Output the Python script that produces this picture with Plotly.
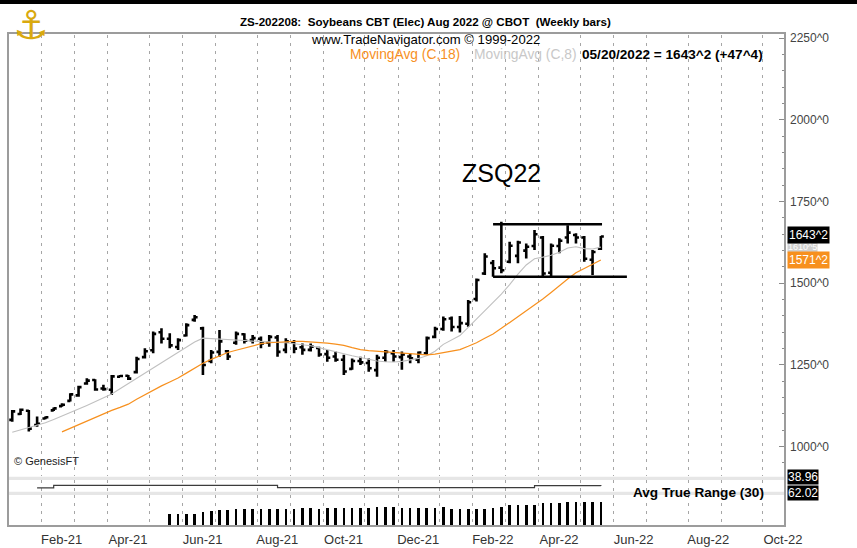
import pandas as pd
import plotly.graph_objects as go

# ---------------- data ----------------
bar_dates = pd.date_range("2021-01-08", "2022-05-20", freq="W-FRI")

opens = [1082, 1100, 1110, 1066, 1086, 1111, 1124, 1140, 1157, 1193, 1204, 1178, 1174, 1214, 1217, 1228, 1274, 1295,
         1350, 1330, 1305, 1340, 1388, 1362, 1262, 1290, 1292, 1318, 1344, 1326, 1330, 1318, 1334, 1296, 1318, 1304,
         1296, 1302, 1283, 1276, 1266, 1238, 1262, 1256, 1234, 1272, 1286, 1274, 1276, 1266, 1286, 1336, 1360, 1392,
         1366, 1376, 1452, 1530, 1562, 1548, 1566, 1584, 1600, 1614, 1640, 1532, 1614, 1640, 1648, 1640, 1572, 1606]
highs = [1112, 1117, 1112, 1092, 1092, 1120, 1133, 1163, 1186, 1209, 1206, 1189, 1219, 1219, 1219, 1275, 1301, 1352,
         1362, 1347, 1332, 1378, 1403, 1367, 1296, 1357, 1296, 1352, 1347, 1342, 1337, 1342, 1342, 1332, 1326, 1316,
         1316, 1306, 1296, 1291, 1281, 1270, 1275, 1270, 1281, 1296, 1296, 1291, 1286, 1291, 1337, 1367, 1398, 1398,
         1400, 1449, 1515, 1592, 1571, 1688, 1627, 1630, 1622, 1663, 1645, 1622, 1638, 1678, 1653, 1645, 1602, 1645]
lows = [1076, 1097, 1046, 1061, 1084, 1109, 1122, 1138, 1153, 1189, 1171, 1171, 1158, 1212, 1204, 1224, 1270, 1286,
        1316, 1301, 1296, 1337, 1382, 1219, 1255, 1275, 1265, 1312, 1316, 1316, 1301, 1306, 1275, 1286, 1286, 1281,
        1291, 1275, 1260, 1260, 1219, 1235, 1250, 1229, 1214, 1260, 1260, 1235, 1255, 1255, 1281, 1332, 1355, 1352,
        1349, 1367, 1444, 1525, 1520, 1531, 1561, 1561, 1576, 1602, 1520, 1520, 1592, 1622, 1622, 1566, 1525, 1602]
closes = [1108, 1113, 1055, 1070, 1090, 1117, 1128, 1160, 1182, 1202, 1175, 1176, 1215, 1216, 1208, 1268, 1292, 1345,
          1330, 1310, 1326, 1372, 1396, 1250, 1288, 1322, 1276, 1345, 1324, 1332, 1316, 1336, 1290, 1322, 1300, 1296,
          1306, 1282, 1272, 1266, 1230, 1262, 1258, 1240, 1272, 1290, 1276, 1282, 1270, 1288, 1332, 1360, 1390, 1366,
          1378, 1442, 1510, 1582, 1546, 1540, 1615, 1625, 1612, 1650, 1530, 1615, 1630, 1655, 1640, 1575, 1595.75, 1643.25]

# Moving averages
ma8 = [1044, 1051, 1058, 1066, 1073, 1083, 1093, 1103, 1115, 1126, 1138, 1149, 1161, 1177, 1193, 1209, 1225, 1241,
       1257, 1273, 1289, 1303, 1320, 1332, 1331, 1330, 1329, 1327, 1325, 1323, 1321, 1320, 1319, 1318, 1315, 1312,
       1309, 1303, 1296, 1290, 1284, 1278, 1272, 1267, 1262, 1260, 1259, 1261, 1265, 1270, 1278, 1292, 1313, 1327,
       1340, 1365, 1390, 1415, 1440, 1467, 1496, 1528, 1556, 1575, 1580, 1586, 1595, 1608, 1612, 1606, 1605, 1610.6]
ma18 = [None] * 6 + [1045, 1056, 1068, 1079, 1090, 1101, 1111, 1120, 1130, 1145, 1159, 1173, 1186, 1198, 1210, 1225,
                     1241, 1255, 1267, 1278, 1288, 1295, 1302, 1309, 1315, 1318, 1320, 1321, 1322, 1322, 1321, 1320,
                     1317, 1314, 1310, 1303, 1297, 1294, 1292, 1290, 1288, 1286, 1284, 1282, 1281, 1283, 1287, 1291,
                     1297, 1307, 1318, 1332, 1345, 1362, 1380, 1397, 1414, 1432, 1452, 1472, 1493, 1513, 1532, 1545,
                     1557, 1571.25]

# middle strip indicator
strip_vals = [None] * 3 + [37.2, 37.2] + [39.7] * 27 + [37.3] * 31 + [39.3] * 8 + [38.96]

# Avg True Range (30)
atr = [None] * 19 + [30.5, 30.5, 30.5, 30.5, 35.8, 39.3, 41.9, 41.9, 44.5, 44.5, 44.5, 44.5, 44.5, 44.5, 44.5, 44.5,
                     48.0, 48.0, 44.5, 48.0, 48.0, 48.0, 48.0, 48.0, 48.0, 50.6, 50.6, 50.6, 48.0, 48.0, 48.0, 48.0,
                     48.0, 50.6, 44.5, 44.5, 44.5, 44.5, 44.5, 48.0, 50.6, 55.0, 55.0, 55.0, 55.0, 59.3, 59.3, 61.1,
                     61.5, 62.0, 62.3, 62.1, 62.02]

# drawn channel (trend lines)
channel_top_dates = ["2022-02-18", "2022-05-21"]
channel_top_price = 1681
channel_bot_dates = ["2022-02-18", "2022-06-11"]
channel_bot_price = 1520

price_ticks = [1000, 1250, 1500, 1750, 2000, 2250]
price_tick_text = ["1000^0", "1250^0", "1500^0", "1750^0", "2000^0", "2250^0"]
x_tick_labels = ["Feb-21", "Apr-21", "Jun-21", "Aug-21", "Oct-21", "Dec-21",
                 "Feb-22", "Apr-22", "Jun-22", "Aug-22", "Oct-22"]

# ---------------- styling helpers ----------------
ARIAL = "Liberation Sans, Arial, sans-serif"


def first_friday(d):
    return d + pd.Timedelta(days=(4 - d.weekday()) % 7)


month_starts = pd.date_range("2021-02-01", "2022-10-01", freq="MS")
grid_dates = [first_friday(m) - pd.Timedelta(hours=78) for m in month_starts]
label_pos = []
for lab in x_tick_labels:
    m = pd.to_datetime("01-" + lab, format="%d-%b-%y")
    label_pos.append(first_friday(m) - pd.Timedelta(hours=78) + pd.Timedelta(days=17))

fig = go.Figure()

fig.add_trace(go.Ohlc(
    x=bar_dates, open=opens, high=highs, low=lows, close=closes,
    increasing=dict(line=dict(color="black", width=2.6)),
    decreasing=dict(line=dict(color="black", width=2.6)),
    tickwidth=0.36, xaxis="x", yaxis="y", showlegend=False, hoverinfo="skip"))

fig.add_trace(go.Scatter(x=bar_dates, y=ma8, mode="lines",
                         line=dict(color="#c0c0c0", width=1.1), xaxis="x", yaxis="y",
                         showlegend=False, hoverinfo="skip"))
fig.add_trace(go.Scatter(x=bar_dates, y=ma18, mode="lines",
                         line=dict(color="#f7901e", width=1.2), xaxis="x", yaxis="y",
                         showlegend=False, hoverinfo="skip"))

fig.add_trace(go.Scatter(x=bar_dates, y=strip_vals, mode="lines", line_shape="hv",
                         line=dict(color="#3c3c3c", width=1.2), xaxis="x", yaxis="y2",
                         showlegend=False, hoverinfo="skip"))

fig.add_trace(go.Bar(x=bar_dates, y=atr, marker=dict(color="black", line=dict(width=0)),
                     width=2.2 * 86400000, xaxis="x", yaxis="y3", showlegend=False, hoverinfo="skip"))

# channel lines
for xs, p in ((channel_top_dates, channel_top_price), (channel_bot_dates, channel_bot_price)):
    fig.add_shape(type="line", xref="x", yref="y", x0=xs[0], x1=xs[1], y0=p, y1=p,
                  line=dict(color="black", width=2.5))

shapes_paper = [
    # separators between panels
    dict(type="rect", xref="paper", yref="paper", x0=0, x1=1, y0=0.0937, y1=0.1004,
         fillcolor="#e6e6e6", line=dict(width=0), layer="below"),
    dict(type="rect", xref="paper", yref="paper", x0=0, x1=1, y0=0.0631, y1=0.0699,
         fillcolor="#e6e6e6", line=dict(width=0), layer="below"),
    # frame
    dict(type="rect", xref="paper", yref="paper", x0=0, x1=1, y0=0, y1=1.004,
         fillcolor="rgba(0,0,0,0)", line=dict(color="#9c9c9c", width=2)),
    # top black rule
    dict(type="rect", xref="paper", yref="paper", x0=-0.0103, x1=1.0927, y0=1.0632, y1=1.0713,
         fillcolor="black", line=dict(width=0)),
]
for s in shapes_paper:
    fig.add_shape(**s)

ann = []
ann.append(dict(text="<b>ZS-202208:  Soybeans CBT (Elec) Aug 2022 @ CBOT  (Weekly bars)</b>",
                x=0.5367, y=1.0448, xref="paper", yref="paper", showarrow=False,
                font=dict(family=ARIAL, size=11.6, color="black")))
ann.append(dict(text="www.TradeNavigator.com © 1999-2022",
                x=0.5379, y=1.0102, xref="paper", yref="paper", showarrow=False,
                font=dict(family=ARIAL, size=13.1, color="black")))
ann.append(dict(text="MovingAvg (C,18)", x=0.4376, y=0.9796, xref="paper", yref="paper",
                xanchor="left", showarrow=False, font=dict(family=ARIAL, size=13.8, color="#f7901e")))
ann.append(dict(text="MovingAvg (C,8)", x=0.5972, y=0.9796, xref="paper", yref="paper",
                xanchor="left", showarrow=False, font=dict(family=ARIAL, size=13.8, color="#c8c8c8")))
ann.append(dict(text="<b>05/20/2022 = 1643^2 (+47^4)</b>", x=0.9743, y=0.9796, xref="paper", yref="paper",
                xanchor="right", showarrow=False, font=dict(family=ARIAL, size=13.6, color="black")))
ann.append(dict(text="ZSQ22", x=0.6345, y=0.7515, xref="paper", yref="paper", showarrow=False,
                font=dict(family=ARIAL, size=25, color="black")))
ann.append(dict(text="© GenesisFT", x=0.0051, y=0.1161, xref="paper", yref="paper", xanchor="left",
                showarrow=False, font=dict(family=ARIAL, size=11, color="#222")))
ann.append(dict(text="<b>Avg True Range (30)</b>", x=0.9755, y=0.0489, xref="paper", yref="paper",
                xanchor="right", showarrow=False, font=dict(family=ARIAL, size=13.6, color="black")))
# right-hand value boxes (gray MA8 label sits mostly behind the other two, as in the source)
ann.append(dict(text="1610^5", x=1, xshift=2, y=ma8[-1], xref="paper", yref="y", xanchor="left",
                showarrow=False, bgcolor="#d0d0d0", borderpad=0,
                font=dict(family=ARIAL, size=9, color="white")))
ann.append(dict(text="1643^2", x=1, xshift=2, y=closes[-1] + 4, xref="paper", yref="y", xanchor="left",
                showarrow=False, bgcolor="black", borderpad=1,
                font=dict(family=ARIAL, size=12, color="white")))
ann.append(dict(text="1571^2", x=1, xshift=2, y=ma18[-1], xref="paper", yref="y", xanchor="left",
                showarrow=False, bgcolor="#f7901e", borderpad=1,
                font=dict(family=ARIAL, size=12, color="white")))
ann.append(dict(text="38.96", x=1, xshift=2, y=0.0835, xref="paper", yref="paper", xanchor="left",
                showarrow=False, bgcolor="black", borderpad=0,
                font=dict(family=ARIAL, size=12, color="white")))
ann.append(dict(text="62.02", x=1, xshift=2, y=0.0509, xref="paper", yref="paper", xanchor="left",
                showarrow=False, bgcolor="black", borderpad=0,
                font=dict(family=ARIAL, size=12, color="white")))
# logo
ann.append(dict(text="⚓", x=0.004, y=1.072, xref="paper", yref="paper", showarrow=False,
                font=dict(family="DejaVu Sans", size=40, color="#d9a90f")))

fig.update_layout(
    width=857, height=548,
    margin=dict(l=8, r=72, t=35, b=22, autoexpand=False),
    paper_bgcolor="white", plot_bgcolor="white",
    showlegend=False, bargap=0,
    annotations=ann,
    xaxis=dict(
        type="date", range=["2021-01-04 10:00", "2022-10-22 12:00"], anchor="y3",
        rangeslider=dict(visible=False), showgrid=False, zeroline=False, showline=False,
        automargin=False,
        tickmode="array", tickvals=label_pos, ticktext=x_tick_labels, ticks="",
        ticklabelstandoff=4,
        tickfont=dict(family=ARIAL, size=13, color="#333"),
        minor=dict(tickmode="array", tickvals=grid_dates, showgrid=True, gridcolor="#a6a6a6",
                   griddash="3px,5px", gridwidth=1, ticks=""),
    ),
    yaxis=dict(
        domain=[0.1018, 1], range=[910, 2260], side="right", anchor="x", automargin=False,
        tickmode="array", tickvals=price_ticks, ticktext=price_tick_text,
        ticks="inside", ticklen=6, tickcolor="#8a8a8a", tickwidth=1,
        ticklabelstandoff=4,
        minor=dict(dtick=50, tick0=1000, ticks="inside", ticklen=3, tickcolor="#8a8a8a", showgrid=False),
        showgrid=False, zeroline=False, showline=False,
        tickfont=dict(family=ARIAL, size=12, color="#444"),
    ),
    yaxis2=dict(domain=[0.0692, 0.0937], range=[33, 45], anchor="x", showgrid=False, zeroline=False,
                showticklabels=False, ticks="", showline=False, automargin=False),
    yaxis3=dict(domain=[0, 0.0631], range=[0, 81.1], anchor="x", showgrid=False, zeroline=False,
                showticklabels=False, ticks="", showline=False, automargin=False),
)

fig.write_html("out.html", config={"displayModeBar": False},
               post_script="document.body.style.margin='0px';")
